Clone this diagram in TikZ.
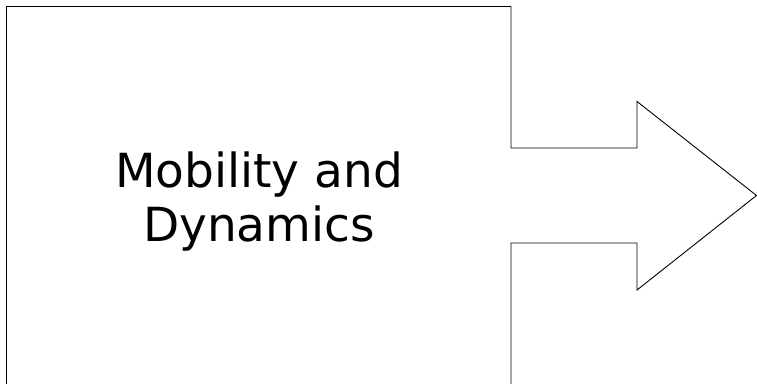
\documentclass[tikz,border=0pt]{standalone}
\usepackage{fontspec}
\setmainfont{DejaVu Sans}
\begin{document}
\begin{tikzpicture}[x=1pt,y=1pt,
  outline/.style={draw=black,line width=0.9pt,line join=miter},
  blocktext/.style={font=\fontsize{47}{54.5}\selectfont,align=center,inner sep=0pt}]
\useasboundingbox (0,0) rectangle (757,383);
\clip (0,0) rectangle (757,383);
% block with the outgoing arrow, drawn as one outline
\draw[outline] (6.5,-10) -- (6.5,376.5) -- (511,376.5) -- (511,235)
  -- (637,235) -- (637,281.5) -- (756.5,187.5) -- (637,93)
  -- (637,140) -- (511,140) -- (511,-10);
\node[blocktext] (label) at (259,181.5) {Mobility and\\Dynamics};
\end{tikzpicture}
\end{document}
